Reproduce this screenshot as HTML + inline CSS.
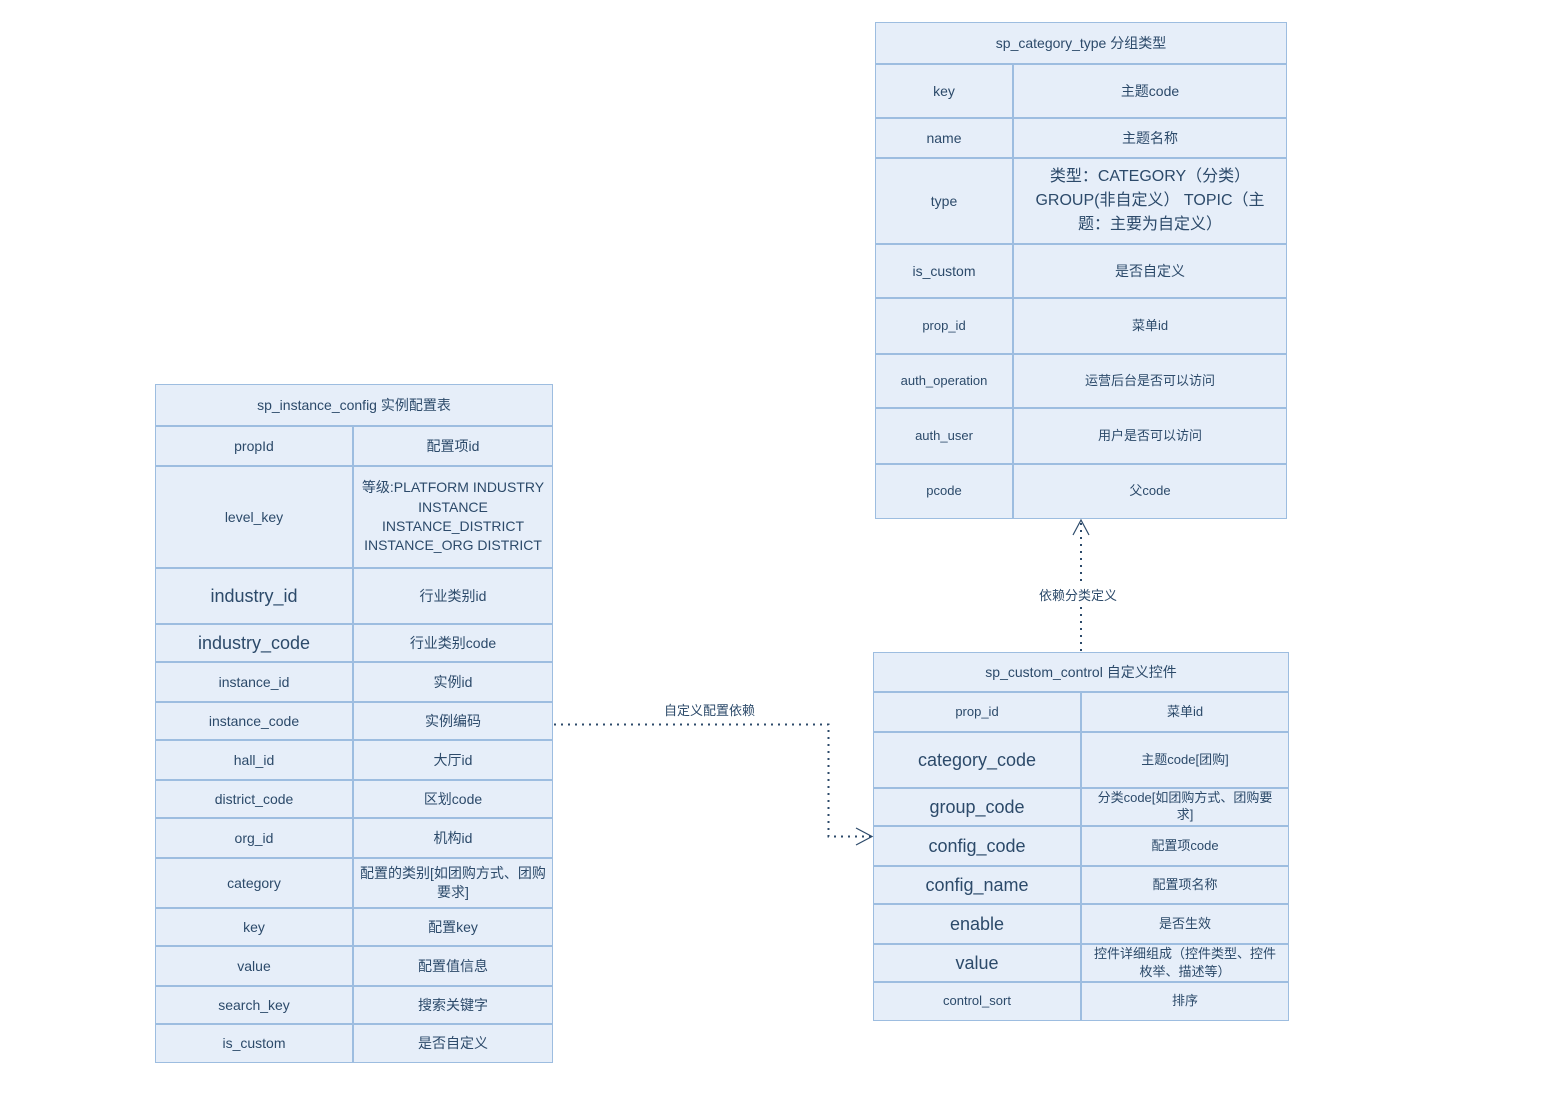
<!DOCTYPE html>
<html><head><meta charset="utf-8"><style>
body{margin:0;width:1566px;height:1108px;background:#fff;position:relative;overflow:hidden;font-family:"Liberation Sans","Noto Sans CJK SC",sans-serif;color:#2c4a6a}
.t{position:absolute;border:1.5px solid #9dbde0;background:#e6eef9;box-sizing:border-box}
.r{display:flex;box-sizing:border-box;border-top:2px solid #9dbde0}
.r:first-child{border-top:none}
.c{display:flex;align-items:center;justify-content:center;text-align:center;box-sizing:border-box;line-height:1.45;padding:0 6px}
.l{border-right:2px solid #9dbde0}
.f{flex:1}
.lbl{position:absolute;font-size:13px;background:#fff;padding:0 2px}
</style></head><body>

<div class="t" style="left:875px;top:22px;width:412px;font-size:14px">
<div class="r" style="height:40px"><div class="c f">sp_category_type 分组类型</div></div>
<div class="r" style="height:54px"><div class="c l" style="width:138px">key</div><div class="c f">主题code</div></div>
<div class="r" style="height:40px"><div class="c l" style="width:138px">name</div><div class="c f">主题名称</div></div>
<div class="r" style="height:86px"><div class="c l" style="width:138px">type</div><div class="c f" style="font-size:16px;line-height:1.5">类型：CATEGORY（分类）GROUP(非自定义） TOPIC（主题：主要为自定义）</div></div>
<div class="r" style="height:54px"><div class="c l" style="width:138px">is_custom</div><div class="c f">是否自定义</div></div>
<div class="r" style="height:56px;font-size:13px"><div class="c l" style="width:138px">prop_id</div><div class="c f">菜单id</div></div>
<div class="r" style="height:54px;font-size:13px"><div class="c l" style="width:138px">auth_operation</div><div class="c f">运营后台是否可以访问</div></div>
<div class="r" style="height:56px;font-size:13px"><div class="c l" style="width:138px">auth_user</div><div class="c f">用户是否可以访问</div></div>
<div class="r" style="height:55px;font-size:13px"><div class="c l" style="width:138px">pcode</div><div class="c f">父code</div></div>
</div>

<div class="t" style="left:155px;top:384px;width:398px;font-size:14px">
<div class="r" style="height:40px"><div class="c f">sp_instance_config 实例配置表</div></div>
<div class="r" style="height:40px"><div class="c l" style="width:198px">propId</div><div class="c f">配置项id</div></div>
<div class="r" style="height:102px"><div class="c l" style="width:198px">level_key</div><div class="c f" style="line-height:1.38">等级:PLATFORM INDUSTRY INSTANCE INSTANCE_DISTRICT INSTANCE_ORG DISTRICT</div></div>
<div class="r" style="height:56px"><div class="c l" style="width:198px;font-size:18px">industry_id</div><div class="c f">行业类别id</div></div>
<div class="r" style="height:38px"><div class="c l" style="width:198px;font-size:18px">industry_code</div><div class="c f">行业类别code</div></div>
<div class="r" style="height:40px"><div class="c l" style="width:198px">instance_id</div><div class="c f">实例id</div></div>
<div class="r" style="height:38px"><div class="c l" style="width:198px">instance_code</div><div class="c f">实例编码</div></div>
<div class="r" style="height:40px"><div class="c l" style="width:198px">hall_id</div><div class="c f">大厅id</div></div>
<div class="r" style="height:38px"><div class="c l" style="width:198px">district_code</div><div class="c f">区划code</div></div>
<div class="r" style="height:40px"><div class="c l" style="width:198px">org_id</div><div class="c f">机构id</div></div>
<div class="r" style="height:50px"><div class="c l" style="width:198px">category</div><div class="c f" style="line-height:1.35">配置的类别[如团购方式、团购要求]</div></div>
<div class="r" style="height:38px"><div class="c l" style="width:198px">key</div><div class="c f">配置key</div></div>
<div class="r" style="height:40px"><div class="c l" style="width:198px">value</div><div class="c f">配置值信息</div></div>
<div class="r" style="height:38px"><div class="c l" style="width:198px">search_key</div><div class="c f">搜索关键字</div></div>
<div class="r" style="height:39px"><div class="c l" style="width:198px">is_custom</div><div class="c f">是否自定义</div></div>
</div>

<div class="t" style="left:873px;top:652px;width:416px;font-size:13px">
<div class="r" style="height:38px"><div class="c f" style="font-size:14px">sp_custom_control 自定义控件</div></div>
<div class="r" style="height:40px"><div class="c l" style="width:208px">prop_id</div><div class="c f">菜单id</div></div>
<div class="r" style="height:56px"><div class="c l" style="width:208px;font-size:18px">category_code</div><div class="c f">主题code[团购]</div></div>
<div class="r" style="height:38px"><div class="c l" style="width:208px;font-size:18px">group_code</div><div class="c f" style="line-height:1.3;padding:0 10px">分类code[如团购方式、团购要求]</div></div>
<div class="r" style="height:40px"><div class="c l" style="width:208px;font-size:18px">config_code</div><div class="c f">配置项code</div></div>
<div class="r" style="height:38px"><div class="c l" style="width:208px;font-size:18px">config_name</div><div class="c f">配置项名称</div></div>
<div class="r" style="height:40px"><div class="c l" style="width:208px;font-size:18px">enable</div><div class="c f">是否生效</div></div>
<div class="r" style="height:38px"><div class="c l" style="width:208px;font-size:18px">value</div><div class="c f" style="line-height:1.4">控件详细组成（控件类型、控件枚举、描述等）</div></div>
<div class="r" style="height:39px"><div class="c l" style="width:208px">control_sort</div><div class="c f">排序</div></div>
</div>

<svg width="1566" height="1108" style="position:absolute;left:0;top:0">
<g fill="none" stroke="#2c4a6a" stroke-width="2">
<path d="M554 724.5 H828.5 V836.5 H871" stroke-dasharray="2 5"/>
<path d="M856 828 L872 836.5 L856 845" stroke-width="1.2"/>
<path d="M1081 651 V522" stroke-dasharray="2 5"/>
<path d="M1073 535 L1081 520 L1089 535" stroke-width="1.2"/>
</g>
</svg>
<div class="lbl" style="left:662px;top:700px">自定义配置依赖</div>
<div class="lbl" style="left:1037px;top:585px">依赖分类定义</div>
</body></html>
